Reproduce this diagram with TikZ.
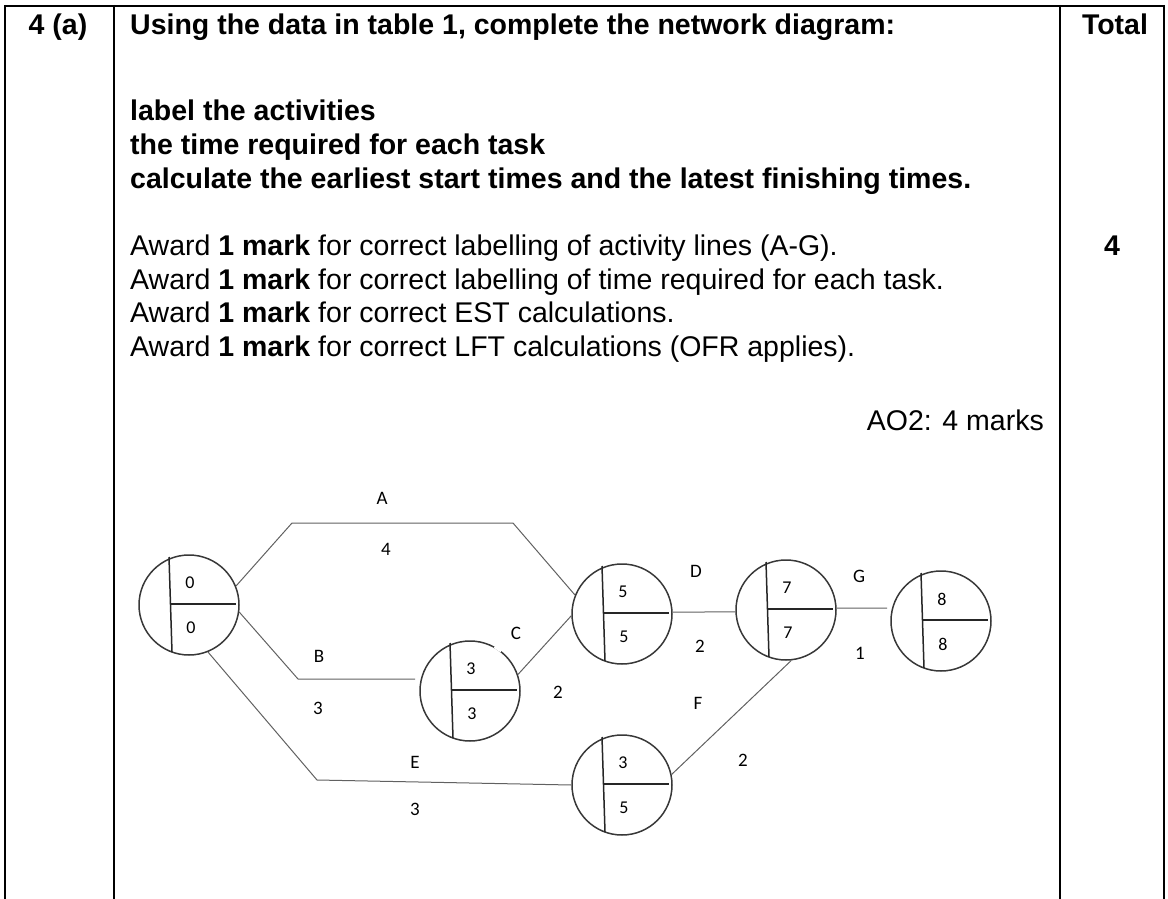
\documentclass[tikz,border=0pt]{standalone}
\usepackage{fontspec}
\setmainfont{Liberation Sans}
\newfontfamily\calfont{Carlito}
\usetikzlibrary{calc}
\begin{document}
\begin{tikzpicture}[x=1pt,y=-1pt,
  tbl/.style={line width=2pt,black},
  body/.style={anchor=base west,inner sep=0pt,font=\fontsize{28.5}{33}\selectfont},
  bodyc/.style={anchor=base,inner sep=0pt,font=\fontsize{28.5}{33}\selectfont\bfseries},
  event/.style={circle,minimum size=100pt,inner sep=0pt,draw=black!78,line width=1.5pt},
  div/.style={draw=black!85,line width=1.5pt},
  conn/.style={draw=black!62,line width=1pt},
  lbl/.style={inner sep=0pt,font=\calfont\fontsize{19}{22}\selectfont},
  num/.style={inner sep=0pt,font=\calfont\fontsize{18}{21}\selectfont}]
\useasboundingbox (0,0) rectangle (1168,899);
% table
\draw[tbl] (4,6) -- (1165,6);
\draw[tbl] (5,5) -- (5,899);
\draw[tbl] (114,5) -- (114,899);
\draw[tbl] (1060,5) -- (1060,899);
\draw[tbl] (1164,5) -- (1164,899);
% header texts
\node[bodyc] (q) at (58,35) {4 (a)};
\node[bodyc] (tot) at (1115,35) {Total};
\node[body] (t1) at (130,35) {\bfseries Using the data in table 1, complete the network diagram:};
\node[body] (t2) at (130,121) {\bfseries label the activities};
\node[body] (t3) at (130,154) {\bfseries the time required for each task};
\node[body] (t4) at (130,188) {\bfseries calculate the earliest start times and the latest finishing times.};
\node[body] (a1) at (130,255) {Award \textbf{1 mark} for correct labelling of activity lines (A-G).};
\node[body] (a2) at (130,289) {Award \textbf{1 mark} for correct labelling of time required for each task.};
\node[body] (a3) at (130,322) {Award \textbf{1 mark} for correct EST calculations.};
\node[body] (a4) at (130,356) {Award \textbf{1 mark} for correct LFT calculations (OFR applies).};
\node[bodyc] (mk) at (1112,255) {4};
\node[body,anchor=base east] (ao) at (1044,430) {AO2: 4 marks};
% events
\node[event] (n1) at (189,605) {};
\node[event,draw=none] (n2) at (470,691) {};
\node[event] (n3) at (622,614) {};
\node[event] (n4) at (786,610) {};
\node[event] (n5) at (941,621) {};
\node[event] (n6) at (622,785) {};
% circle n2 with a small gap in its outline
\draw[draw=black!78,line width=1.5pt] (n2.center) circle[radius=50pt];
\draw[white,line width=3pt] (n2.52) -- (n2.61);
% dividers and numbers
\foreach \n/\e/\l in {n1/0/0,n2/3/3,n3/5/5,n4/7/7,n5/8/8,n6/3/5}{
  \draw[div] ($(\n)+(-20,-48)$) -- ($(\n)+(-17,47)$);
  \draw[div] ($(\n)+(-19,-1)$) -- ($(\n)+(47,-1)$);
  \node[num] at ($(\n)+(1,-22)$) {\e};
  \node[num] at ($(\n)+(2,23)$) {\l};
}
% bend points and free ends
\coordinate (pa1) at (292,523);
\coordinate (pa2) at (513,523);
\coordinate (pb1) at (298,679);
\coordinate (pb2) at (415,679);
\coordinate (pe1) at (317,780);
\coordinate (pg2) at (887,608);
% connectors
\draw[conn] (n1.22) -- (pa1) -- (pa2) -- (n3.158);
\draw[conn] (n1.-8) -- (pb1) -- (pb2);
\draw[conn] (n2.19) -- (n3.182);
\draw[conn] (n3.2) -- (n4.182);
\draw[conn] (n4.2) -- (pg2);
\draw[conn] (n1.-68) -- (pe1) -- (n6.west);
\draw[conn] (n6.12) -- (n4.-84);
% activity labels
\node[lbl] (la) at (382,498) {A};
\node[lbl] (ta) at (386,549) {4};
\node[lbl] (lb) at (319,656) {B};
\node[lbl] (tb) at (318,708) {3};
\node[lbl] (lc) at (516,633) {C};
\node[lbl] (tc) at (558,692) {2};
\node[lbl] (ld) at (696,571) {D};
\node[lbl] (td) at (700,646) {2};
\node[lbl] (lg) at (859,576) {G};
\node[lbl] (tg) at (860,653) {1};
\node[lbl] (le) at (415,762) {E};
\node[lbl] (te) at (415,809) {3};
\node[lbl] (lf) at (698,703) {F};
\node[lbl] (tf) at (743,760) {2};
\end{tikzpicture}
\end{document}
